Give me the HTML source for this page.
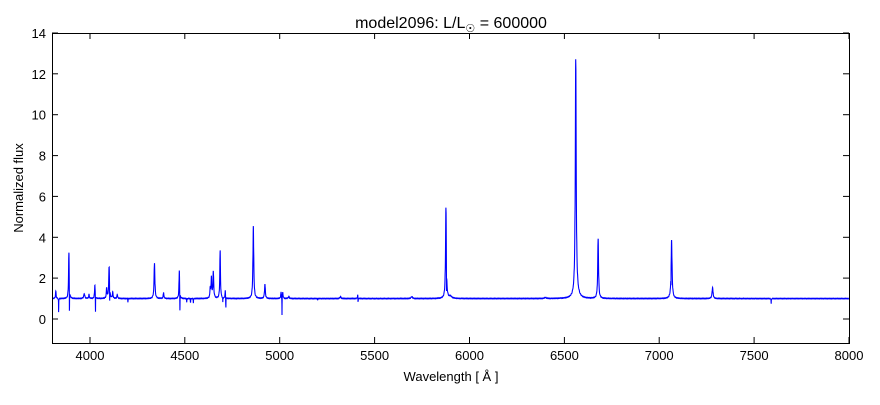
<!DOCTYPE html>
<html><head><meta charset="utf-8"><style>
body{margin:0;background:#fff;}
svg text{font-family:"Liberation Sans",sans-serif;}
</style></head><body>
<svg id="s" width="880" height="400" xmlns="http://www.w3.org/2000/svg">
<rect width="880" height="400" fill="#fff"/>
<path id="p" d="" fill="none" stroke="#0000ff" stroke-width="1.1" clip-path="url(#c)"/>
<clipPath id="c"><rect x="52" y="33" width="797" height="310"/></clipPath>
<rect x="52.5" y="33.5" width="797" height="310" fill="none" stroke="#000" stroke-width="1"/>
<g stroke="#000" stroke-width="1" id="ticks"></g>
<g font-size="13" fill="#000" id="labs"></g>
<text x="451" y="28" font-size="16" text-anchor="middle">model2096: L/L<tspan font-size="11" dy="4">☉</tspan><tspan dy="-4"> = 600000</tspan></text>
<text x="451" y="381" font-size="13" text-anchor="middle">Wavelength [ Å ]</text>
<text transform="translate(23,188) rotate(-90)" font-size="13" text-anchor="middle">Normalized flux</text>
</svg>
<script>
var X=function(l){return 52+(l-3800)*0.18976;},Y=function(v){return 319-20.43*v;};
var L=[[3820,.35,2],[3835,-.8,1],[3889,2.3,2],[3892,-1.6,1],[3970,.25,3],[3995,.2,2],[4026,.7,2],[4029,-1.0,1],[4088,.5,2],[4101,1.55,2.5],[4104,-.8,1],[4120,.3,2],[4144,.2,2],[4200,-.2,1],[4340,1.75,2.5],[4388,.3,2],[4471,1.4,2],[4474,-1.2,1],[4510,-.2,1.5],[4530,-.2,1.5],[4545,-.25,1.5],[4634,.5,2],[4640,1.0,2],[4650,1.3,2.5],[4686,2.35,2],[4700,-.25,1],[4713,.4,1.5],[4716,-.6,1],[4861,3.55,2.5],[4922,.7,2.5],[5007,.3,2],[5012,-.9,1],[5016,.3,2],[5048,.1,3],[5200,-.08,1],[5320,.1,3],[5411,.2,1.5],[5413,-.3,1],[5696,.1,4],[5876,4.5,2.5],[5879,-1.5,1],[5900,.1,8],[6400,.05,5],[6560,11.4,2.8],[6563,.35,12],[6678,2.95,2.5],[7065,2.9,3],[7062,-1.0,1],[7281,.55,3],[7590,-.3,1.2]];
var d="";for(var l=3800;l<=8000;l+=0.6){var v=1+0.02*Math.sin(l*0.9);for(var i=0;i<L.length;i++){var t=(l-L[i][0])/L[i][2];v+=L[i][1]/(1+t*t*(L[i][1]<0?4:1));}d+=(d?"L":"M")+X(l).toFixed(1)+" "+Y(v).toFixed(1);}
document.getElementById("p").setAttribute("d",d);
var tk="",lb="";
for(var l=4000;l<=8000;l+=500){var x=X(l).toFixed(1);tk+='<line x1="'+x+'" y1="343" x2="'+x+'" y2="337"/><line x1="'+x+'" y1="33" x2="'+x+'" y2="39"/>';lb+='<text x="'+x+'" y="360" text-anchor="middle">'+l+'</text>';}
for(var v=0;v<=14;v+=2){var y=Y(v).toFixed(1);tk+='<line x1="52" y1="'+y+'" x2="58" y2="'+y+'"/><line x1="849" y1="'+y+'" x2="843" y2="'+y+'"/>';lb+='<text x="46" y="'+(+y+5)+'" text-anchor="end">'+v+'</text>';}
document.getElementById("ticks").innerHTML=tk;document.getElementById("labs").innerHTML=lb;
</script>
</body></html>
